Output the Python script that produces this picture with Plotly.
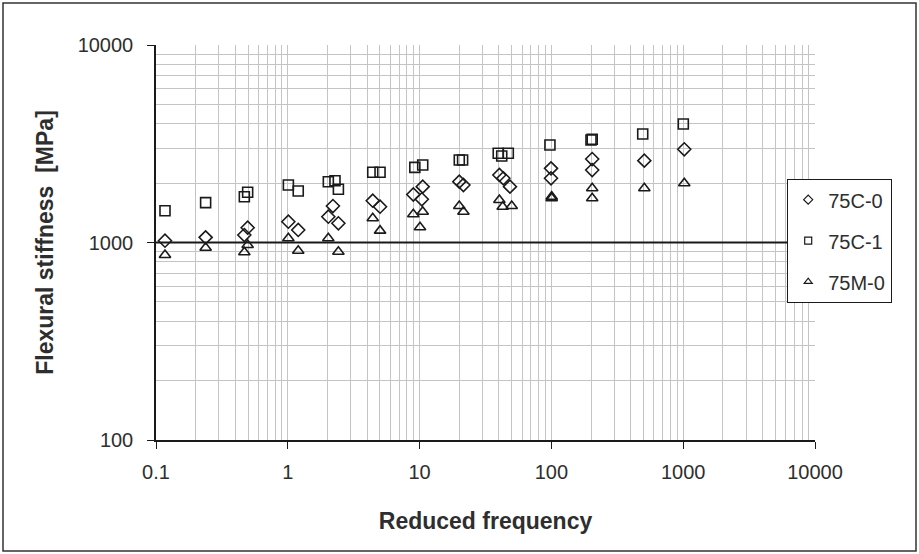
import plotly.graph_objects as go

# ---- data ----
x_75C0 = [0.117, 0.238, 0.468, 0.496, 1.01, 1.20, 2.03, 2.20, 2.42, 4.41, 5.01,
          8.96, 10.56, 10.4, 20.0, 21.5, 40.3, 43.2, 48.5, 99.3, 99.3, 204, 204, 507, 1019]
y_75C0 = [1021, 1062, 1091, 1188, 1274, 1157, 1351, 1530, 1251, 1628, 1518,
          1750, 1917, 1655, 2032, 1955, 2197, 2114, 1917, 2375, 2114, 2647, 2328, 2596, 2964]

x_75C1 = [0.117, 0.238, 0.468, 0.496, 1.01, 1.20, 2.03, 2.28, 2.42, 4.41, 5.01,
          9.2, 10.56, 20.0, 21.2, 39.5, 42.0, 47.1, 97.5, 199.7, 204, 493, 1002]
y_75C1 = [1449, 1591, 1706, 1795, 1955, 1823, 2032, 2055, 1860, 2267, 2267,
          2400, 2468, 2617, 2617, 2829, 2742, 2829, 3116, 3304, 3330, 3543, 3982]

x_75M0 = [0.117, 0.238, 0.468, 0.496, 1.01, 1.20, 2.03, 2.42, 4.41, 5.01,
          8.96, 10.56, 10.07, 20.0, 21.5, 40.3, 42.7, 50.0, 100.5, 100.5, 204, 204, 507, 1019]
y_75M0 = [865, 941, 892, 971, 1050, 908, 1050, 898, 1326, 1148,
          1390, 1432, 1195, 1530, 1432, 1641, 1518, 1530, 1706, 1674, 1881, 1674, 1881, 1995]

x_ticks = [0.1, 1, 10, 100, 1000, 10000]
x_ticklabels = ["0.1", "1", "10", "100", "1000", "10000"]
y_ticks = [100, 1000, 10000]
y_ticklabels = ["100", "1000", "10000"]

FONT = "Liberation Sans, Arial, sans-serif"
INK = "#1a1a1a"
TXT = "#2e2e2e"
GRID = "#c4c4c4"

fig = go.Figure()
series = [
    ("75C-0", x_75C0, y_75C0, "diamond-open"),
    ("75C-1", x_75C1, y_75C1, "square-open"),
    ("75M-0", x_75M0, y_75M0, "triangle-up-open"),
]
for name, xs, ys, sym in series:
    fig.add_trace(go.Scatter(
        x=xs, y=ys, mode="markers", name=name, legendgroup=name, showlegend=False,
        marker=dict(symbol=sym, size=10, color=INK, line=dict(color=INK, width=1.6)),
    ))
    # small legend key, as in the reference
    fig.add_trace(go.Scatter(
        x=[None], y=[None], mode="markers", name=name, legendgroup=name, showlegend=True,
        marker=dict(symbol=sym, size=7, color=INK, line=dict(color=INK, width=1.2)),
    ))

axis_common = dict(
    type="log", showline=True, linecolor=INK, linewidth=1.5, mirror=False,
    ticks="outside", ticklen=7, tickcolor=INK, tickwidth=1.2,
    showgrid=True, gridcolor=GRID, gridwidth=1.2,
    tickfont=dict(family=FONT, size=20, color=TXT),
    zeroline=False,
    minor=dict(showgrid=True, gridcolor=GRID, gridwidth=1.2, dtick="D1", ticks=""),
)

fig.update_xaxes(
    **axis_common,
    range=[-1, 4], tickvals=x_ticks, ticktext=x_ticklabels,
    ticklabelstandoff=6,
    title=dict(text="<b>Reduced frequency</b>", font=dict(family=FONT, size=23, color=TXT), standoff=31),
)
fig.update_yaxes(
    **axis_common,
    range=[2, 4], tickvals=y_ticks, ticktext=y_ticklabels,
    ticklabelstandoff=10,
    title=dict(text="<b>Flexural stiffness  [MPa]</b>", font=dict(family=FONT, size=23, color=TXT), standoff=18),
)

# dark reference line at 1000
fig.add_shape(type="line", xref="paper", yref="y", x0=0, x1=1, y0=1000, y1=1000,
              line=dict(color=INK, width=2))
# outer frame of the picture
L, R, T, B = 156, 104, 45, 114
W, H = 919, 554
pw, ph = W - L - R, H - T - B
fig.add_shape(type="rect", xref="paper", yref="paper",
              x0=(3 - L) / pw, x1=(W - 3 - L) / pw,
              y0=-(H - 3 - T - ph) / ph, y1=1 + (T - 3) / ph,
              line=dict(color="#333333", width=1.5), layer="below")

fig.update_layout(
    width=W, height=H,
    margin=dict(l=L, r=R, t=T, b=B),
    paper_bgcolor="white", plot_bgcolor="white",
    font=dict(family=FONT, color=TXT),
    legend=dict(
        x=(787 - L) / pw, y=(440 - 179) / ph, xanchor="left", yanchor="top",
        bgcolor="white", bordercolor=INK, borderwidth=1.2,
        font=dict(family=FONT, size=20, color=TXT),
        itemsizing="trace", tracegroupgap=12, itemwidth=30,
    ),
    showlegend=True,
)

fig.write_html("out.html")
